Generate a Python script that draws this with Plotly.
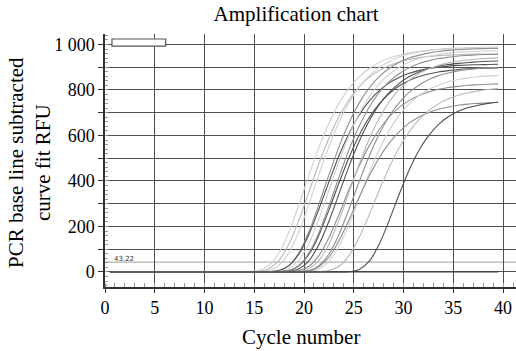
import plotly.graph_objects as go

# ---- data ----
cycles = [0.5, 1.5, 2.5, 3.5, 4.5, 5.5, 6.5, 7.5, 8.5, 9.5,
          10.5, 11.5, 12.5, 13.5, 14.5, 15.5, 16.5, 17.5, 18.5, 19.5,
          20.5, 21.5, 22.5, 23.5, 24.5, 25.5, 26.5, 27.5, 28.5, 29.5,
          30.5, 31.5, 32.5, 33.5, 34.5, 35.5, 36.5, 37.5, 38.5, 39.5]

curve_01 = [0] * 14 + [1, 7, 30, 86, 178, 298, 427, 549, 654, 740, 806, 856, 893, 920,
                       939, 952, 962, 969, 974, 977, 979, 981, 982, 983, 984, 984]
curve_02 = [0] * 15 + [2, 15, 52, 124, 230, 353, 477, 588, 682, 755, 812, 854, 884, 906,
                       922, 933, 941, 947, 951, 953, 955, 957, 958, 958, 959]
curve_03 = [0] * 15 + [1, 7, 30, 86, 179, 299, 429, 551, 657, 743, 810, 860, 897, 924,
                       944, 957, 967, 974, 979, 982, 984, 986, 987, 988, 989]
curve_04 = [0] * 16 + [1, 7, 30, 86, 178, 298, 427, 549, 654, 740, 806, 856, 893, 920,
                       939, 952, 962, 969, 974, 977, 979, 981, 982, 983]
curve_05 = [0] * 16 + [1, 6, 28, 80, 166, 277, 396, 510, 607, 687, 749, 795, 829, 854,
                       872, 885, 894, 900, 905, 908, 910, 911, 912, 913]
curve_06 = [0] * 17 + [3, 15, 53, 126, 234, 359, 484, 598, 692, 767, 824, 867, 898, 921,
                       937, 948, 956, 962, 966, 968, 970, 972, 973]
curve_07 = [0] * 17 + [1, 6, 27, 78, 163, 272, 390, 501, 598, 676, 736, 782, 816, 840,
                       858, 870, 879, 885, 890, 893, 895, 896, 897]
curve_08 = [0] * 17 + [1, 7, 29, 84, 174, 290, 416, 535, 637, 721, 786, 834, 870, 896,
                       915, 928, 938, 944, 949, 952, 955, 956, 957]
curve_09 = [0] * 18 + [2, 14, 50, 121, 223, 342, 462, 570, 660, 732, 786, 827, 857, 878,
                       893, 904, 912, 917, 921, 924, 926, 927]
curve_10 = [0] * 18 + [1, 6, 25, 72, 150, 251, 360, 462, 551, 623, 679, 721, 752, 775,
                       791, 803, 811, 816, 821, 823, 825, 827]
curve_11 = [0] * 19 + [2, 15, 51, 122, 226, 348, 469, 579, 671, 744, 799, 840, 871, 892,
                       908, 919, 927, 932, 936, 939, 941]
curve_12 = [0] * 19 + [1, 6, 28, 79, 164, 274, 392, 504, 601, 680, 741, 787, 820, 845,
                       863, 875, 884, 890, 895, 898, 900]
curve_13 = [0] * 20 + [2, 13, 47, 113, 208, 320, 432, 533, 618, 685, 736, 774, 801, 821,
                       836, 846, 853, 858, 862, 864]
curve_14 = [0] * 19 + [1, 5, 23, 65, 136, 227, 325, 418, 498, 563, 614, 652, 680, 700,
                       715, 725, 733, 738, 741, 744, 746]
curve_15 = [0] * 21 + [1, 6, 25, 71, 148, 246, 353, 454, 541, 612, 667, 708, 739, 761,
                       777, 788, 796, 802, 806]
curve_16 = [0] * 24 + [1, 10, 44, 117, 220, 335, 442, 531, 598, 648, 682, 706, 723, 733,
                       741, 746]
curve_neg = [0] * 40

threshold = 43.22
x_ticks = [0, 5, 10, 15, 20, 25, 30, 35, 40]
y_ticks = [0, 100, 200, 300, 400, 500, 600, 700, 800, 900, 1000]
y_labels = ["0", "", "200", "", "400", "", "600", "", "800", "", "1 000"]

# ---- styling ----
LIGHT, LIGHT2, MID, DARK = "#d0d0d0", "#b8b8b8", "#8f8f8f", "#505050"
series = [
    (curve_01, LIGHT), (curve_02, LIGHT2), (curve_03, LIGHT), (curve_04, MID),
    (curve_05, DARK), (curve_06, LIGHT), (curve_07, DARK), (curve_08, MID),
    (curve_09, DARK), (curve_10, MID), (curve_11, LIGHT2), (curve_12, MID),
    (curve_13, LIGHT), (curve_14, MID), (curve_15, LIGHT2), (curve_16, DARK),
    (curve_neg, "#3a3a3a"),
]

SERIF = "Liberation Serif, Times New Roman, serif"

fig = go.Figure()
for vals, col in series:
    fig.add_trace(go.Scatter(x=cycles, y=vals, mode="lines",
                             line=dict(color=col, width=1.1, shape="spline", smoothing=0.8),
                             hoverinfo="skip", showlegend=False))

fig.add_shape(type="line", xref="paper", x0=0, x1=1, yref="y", y0=threshold, y1=threshold,
              line=dict(color="#b0b0b0", width=1.2), layer="below")
fig.add_annotation(x=0.7, y=threshold + 14, xref="x", yref="y", text=f"{threshold:.2f}",
                   showarrow=False, xanchor="left", yanchor="middle",
                   font=dict(family="DejaVu Sans", size=7, color="#333"))
# empty legend box at top-left
fig.add_shape(type="rect", xref="x", yref="y", x0=0.7, x1=6.1, y0=993, y1=1024,
              fillcolor="white", line=dict(color="#555", width=1.2))

fig.update_layout(
    width=516, height=351,
    margin=dict(l=105, r=0, t=34, b=64),
    paper_bgcolor="white", plot_bgcolor="white",
    title=dict(text="Amplification chart", x=0.465, xref="paper", xanchor="center",
               y=1 - 14 / 351, yref="container", yanchor="middle",
               font=dict(family=SERIF, size=21, color="black")),
    xaxis=dict(range=[0, 41.3], tickvals=x_ticks, showgrid=True, gridcolor="#505050",
               gridwidth=1.3, showline=True, linecolor="#333", linewidth=1.5, zeroline=False,
               ticks="outside", ticklen=4, tickcolor="#333",
               minor=dict(dtick=1, ticks="inside", ticklen=4, tickcolor="#999", showgrid=False),
               tickfont=dict(family=SERIF, size=18, color="black")),
    yaxis=dict(range=[-66, 1046], tickvals=y_ticks, ticktext=y_labels, showgrid=True,
               gridcolor="#505050", gridwidth=1.3, showline=True, linecolor="#333",
               linewidth=1.5, zeroline=False, ticks="outside", ticklen=5, tickcolor="#333",
               minor=dict(dtick=20, ticks="inside", ticklen=3, tickcolor="#999", showgrid=False),
               tickfont=dict(family=SERIF, size=18, color="black")),
)
fig.add_annotation(xref="paper", yref="paper", x=0.477, y=-0.198, text="Cycle number",
                   showarrow=False, xanchor="center", yanchor="middle",
                   font=dict(family=SERIF, size=21, color="black"))
fig.add_annotation(xref="paper", yref="paper", x=-0.185, y=0.494, textangle=-90,
                   text="PCR base line subtracted<br>curve fit RFU", showarrow=False,
                   xanchor="center", yanchor="middle",
                   font=dict(family=SERIF, size=21, color="black"))

fig.write_html("out.html")
